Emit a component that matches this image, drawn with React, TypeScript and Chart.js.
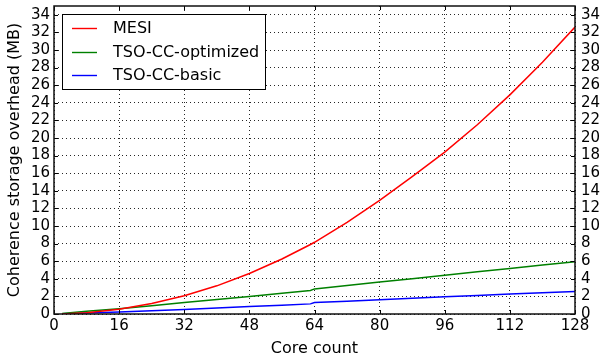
import { useEffect, useRef } from "react";
import { Chart, registerables } from "chart.js";

Chart.register(...registerables);

const coreCounts = [2, 8, 16, 24, 32, 40, 48, 56, 63, 64, 72, 80, 88, 96, 104, 112, 120, 128];
const mesi = [0.01, 0.13, 0.55, 1.2, 2.08, 3.2, 4.6, 6.25, 7.9, 8.15, 10.4, 12.9, 15.6, 18.4, 21.5, 24.9, 28.6, 32.6];
const tsoOptimized = [0.07, 0.3, 0.6, 0.95, 1.32, 1.66, 2.0, 2.35, 2.68, 2.85, 3.25, 3.63, 4.0, 4.4, 4.8, 5.18, 5.57, 5.95];
const tsoBasic = [0.02, 0.1, 0.23, 0.36, 0.5, 0.67, 0.85, 1.0, 1.15, 1.3, 1.46, 1.62, 1.78, 1.95, 2.1, 2.26, 2.42, 2.57];

const seriesLabels = ["MESI", "TSO-CC-optimized", "TSO-CC-basic"];
const seriesColors = ["#ff0000", "#008000", "#0000ff"];

const xTicks = [0, 16, 32, 48, 64, 80, 96, 112, 128];
const yTicks = [0, 2, 4, 6, 8, 10, 12, 14, 16, 18, 20, 22, 24, 26, 28, 30, 32, 34];
const xTitle = "Core count";
const yTitle = "Coherence storage overhead (MB)";

const FONT = "'DejaVu Sans', sans-serif";

const framePlugin = {
  id: "frame",
  afterDraw(chart: any) {
    const { ctx, chartArea, scales } = chart;
    const { left, right, top, bottom } = chartArea;
    ctx.save();
    ctx.strokeStyle = "#000";
    ctx.lineWidth = 1;
    ctx.beginPath();
    for (const v of xTicks) {
      const px = Math.round(scales.x.getPixelForValue(v)) + 0.5;
      ctx.moveTo(px, bottom);
      ctx.lineTo(px, bottom - 4);
      ctx.moveTo(px, top);
      ctx.lineTo(px, top + 4);
    }
    for (const v of yTicks) {
      const py = Math.round(scales.y.getPixelForValue(v)) + 0.5;
      ctx.moveTo(left, py);
      ctx.lineTo(left + 4, py);
      ctx.moveTo(right, py);
      ctx.lineTo(right - 4, py);
    }
    ctx.stroke();
    ctx.lineWidth = 1.5;
    ctx.strokeStyle = "#111";
    ctx.strokeRect(left, top, right - left, bottom - top);

    // legend
    const bx = 62, by = 14, bw = 203, bh = 75;
    ctx.fillStyle = "#fff";
    ctx.fillRect(bx, by, bw, bh);
    ctx.lineWidth = 1;
    ctx.strokeStyle = "#000";
    ctx.strokeRect(bx + 0.5, by + 0.5, bw, bh);
    ctx.font = `16px ${FONT}`;
    ctx.textBaseline = "middle";
    ctx.textAlign = "left";
    chart.data.datasets.forEach((ds: any, i: number) => {
      const cy = 28 + i * 23.5;
      ctx.strokeStyle = ds.borderColor;
      ctx.lineWidth = 1.4;
      ctx.beginPath();
      ctx.moveTo(72, Math.round(cy) + 0.5);
      ctx.lineTo(97, Math.round(cy) + 0.5);
      ctx.stroke();
      ctx.fillStyle = "#000";
      ctx.fillText(ds.label, 113, cy + 1);
    });
    ctx.restore();
  },
};

export default function App() {
  const ref = useRef<HTMLCanvasElement | null>(null);

  useEffect(() => {
    document.body.style.margin = "0";
    const canvas = ref.current;
    if (!canvas) return;
    const seriesValues = [mesi, tsoOptimized, tsoBasic];
    const chart = new Chart(canvas, {
      type: "line",
      data: {
        datasets: seriesValues.map((vals, i) => ({
          label: seriesLabels[i],
          data: coreCounts.map((c, j) => ({ x: c, y: vals[j] })),
          borderColor: seriesColors[i],
          backgroundColor: seriesColors[i],
          borderWidth: 1.5,
          pointRadius: 0,
          tension: 0,
          fill: false,
        })),
      },
      options: {
        responsive: false,
        animation: false,
        layout: { padding: { top: 6, right: 0, left: 0, bottom: 0 } },
        plugins: {
          legend: { display: false },
          tooltip: { enabled: false },
        },
        scales: {
          x: {
            type: "linear",
            min: 0,
            max: 128,
            afterBuildTicks: (s: any) => {
              s.ticks = xTicks.map((v) => ({ value: v }));
            },
            afterFit: (s: any) => {
              s.height = 41;
              s.paddingLeft = 0;
              s.paddingRight = 0;
            },
            ticks: {
              autoSkip: false,
              maxRotation: 0,
              padding: 3,
              color: "#000",
              font: { family: FONT, size: 15 },
            },
            grid: {
              color: "rgba(0,0,0,0.85)",
              lineWidth: 1,
              drawTicks: false,
              tickLength: 0,
            },
            border: { display: false, dash: [1, 3] },
            title: {
              display: true,
              text: xTitle,
              color: "#000",
              font: { family: FONT, size: 16 },
              padding: { top: 0, bottom: -3 },
            },
          },
          y: {
            type: "linear",
            position: "left",
            min: 0,
            max: 35,
            afterBuildTicks: (s: any) => {
              s.ticks = yTicks.map((v) => ({ value: v }));
            },
            afterFit: (s: any) => {
              s.width = 54;
              s.paddingTop = 0;
              s.paddingBottom = 0;
            },
            ticks: {
              autoSkip: false,
              padding: 4,
              color: "#000",
              font: { family: FONT, size: 15 },
            },
            grid: {
              color: "rgba(0,0,0,0.85)",
              lineWidth: 1,
              drawTicks: false,
              tickLength: 0,
            },
            border: { display: false, dash: [1, 3] },
            title: {
              display: true,
              text: yTitle,
              color: "#000",
              font: { family: FONT, size: 16 },
              padding: { top: 5, bottom: 0 },
            },
          },
          y2: {
            type: "linear",
            position: "right",
            min: 0,
            max: 35,
            afterBuildTicks: (s: any) => {
              s.ticks = yTicks.map((v) => ({ value: v }));
            },
            afterFit: (s: any) => {
              s.width = 28;
              s.paddingTop = 0;
              s.paddingBottom = 0;
            },
            ticks: {
              autoSkip: false,
              padding: 6,
              color: "#000",
              font: { family: FONT, size: 15 },
            },
            grid: { display: false, drawTicks: false, tickLength: 0 },
            border: { display: false },
          },
        },
      },
      plugins: [framePlugin],
    } as any);
    return () => chart.destroy();
  }, []);

  return (
    <div style={{ width: 603, height: 355 }}>
      <canvas ref={ref} width={603} height={355} style={{ display: "block" }} />
    </div>
  );
}
